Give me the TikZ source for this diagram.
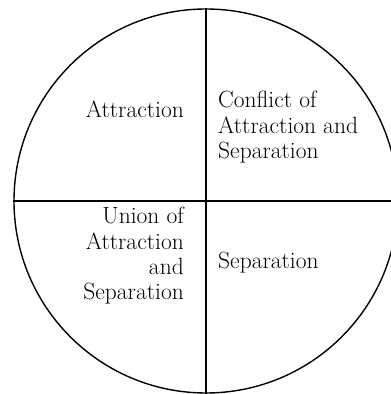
\documentclass[tikz,border=0pt]{standalone}
\usepackage{tikz}
\usetikzlibrary{positioning}
\definecolor{Ink}{HTML}{000000}
\tikzset{
  disc/.style={circle,draw=Ink,line width=1.4pt,minimum size=384pt,inner sep=0pt},
  divline/.style={draw=Ink,line width=1.4pt},
  lefttxt/.style={inner sep=0pt,align=right,anchor=base east,font=\fontsize{23.5}{25.5}\selectfont},
  righttxt/.style={inner sep=0pt,align=left,anchor=base west,font=\fontsize{23.5}{25.5}\selectfont}
}
\begin{document}
\begin{tikzpicture}[x=1pt,y=1pt]
  \useasboundingbox (0,0) rectangle (391,394);
  \node[disc] (wheel) at (206,193) {};

  \draw[divline] (wheel.north)--(wheel.south);
  \draw[divline] (wheel.west)--(wheel.east);

  % multi-line nodes sit on their last line
  \node[lefttxt]  (attr) at (184,276) {Attraction};
  \node[righttxt] (conf) at (218,235) {Conflict of\\Attraction and\\Separation};
  \node[lefttxt]  (unio) at (184,94)  {Union of\\Attraction\\and\\Separation};
  \node[righttxt] (sepa) at (218,125) {Separation};
\end{tikzpicture}
\end{document}
